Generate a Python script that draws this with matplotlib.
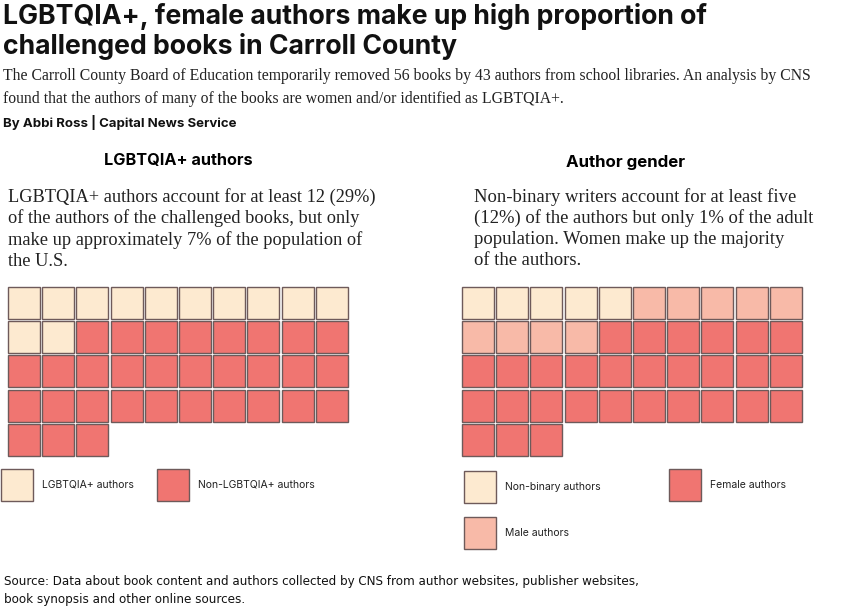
import matplotlib.pyplot as plt
from matplotlib.patches import Rectangle

# data
lgbt_labels = ["LGBTQIA+ authors", "Non-LGBTQIA+ authors"]
lgbt_counts = [12, 31]
gender_labels = ["Non-binary authors", "Male authors", "Female authors"]
gender_counts = [5, 9, 29]

title_lines = ["LGBTQIA+, female authors make up high proportion of",
               "challenged books in Carroll County"]
subtitle_lines = ["The Carroll County Board of Education temporarily removed 56 books by 43 authors from school libraries. An analysis by CNS",
                  "found that the authors of many of the books are women and/or identified as LGBTQIA+."]
byline = "By Abbi Ross | Capital News Service"
left_head = "LGBTQIA+ authors"
left_note = ["LGBTQIA+ authors account for at least 12 (29%)",
             "of the authors of the challenged books, but only",
             "make up approximately 7% of the population of",
             "the U.S."]
right_head = "Author gender"
right_note = ["Non-binary writers account for at least five",
              "(12%) of the authors but only 1% of the adult",
              "population. Women make up the majority",
              "of the authors."]
source_lines = ["Source: Data about book content and authors collected by CNS from author websites, publisher websites,",
                "book synopsis and other online sources."]

cream = "#FDEAD0"
salmon = "#F8BAA8"
red = "#F07571"
edge = "#6E5A5A"
lgbt_colors = [cream, red]
gender_colors = [cream, salmon, red]

title_font = "Inter"
serif = "Liberation Serif"
sans = "Inter"

fig = plt.figure(figsize=(8.5, 6.1), dpi=100)
ax = fig.add_axes([0, 0, 1, 1])
ax.set_xlim(0, 850)
ax.set_ylim(610, 0)
ax.axis("off")


def waffle(counts, colors, x0, y0, pitch=34.2, size=32, ncol=10):
    i = 0
    for c, col in zip(counts, colors):
        for _ in range(c):
            r, k = divmod(i, ncol)
            ax.add_patch(Rectangle((x0 + k * pitch, y0 + r * pitch), size, size,
                                   facecolor=col, edgecolor=edge, lw=1))
            i += 1


def swatch(x, y, col, label):
    ax.add_patch(Rectangle((x, y), 32, 32, facecolor=col, edgecolor=edge, lw=1))
    ax.text(x + 41, y + 16, label, fontsize=7.5, family=sans, va="center", color="#222222")


for i, t in enumerate(title_lines):
    ax.text(3, 16 + i * 30, t, fontsize=19.2, family=title_font, weight="bold",
            va="center", color="#111111")
for i, t in enumerate(subtitle_lines):
    ax.text(3, 76 + i * 23, t, fontsize=11.3, family=serif, va="center", color="#222222")
ax.text(3, 122, byline, fontsize=9.5, family=sans, weight="bold", va="center", color="#111111")

ax.text(178, 161, left_head, fontsize=11.7, family=sans, weight="bold", ha="center", va="center")
ax.text(626, 163, right_head, fontsize=12.2, family=sans, weight="bold", ha="center", va="center")
for i, t in enumerate(left_note):
    ax.text(8, 197 + i * 21.5, t, fontsize=13.2, family=serif, va="center", color="#222222")
for i, t in enumerate(right_note):
    ax.text(474, 197 + i * 21.3, t, fontsize=13.4, family=serif, va="center", color="#222222")

waffle(lgbt_counts, lgbt_colors, 8, 287)
waffle(gender_counts, gender_colors, 462, 287)

swatch(1, 469, lgbt_colors[0], lgbt_labels[0])
swatch(157, 469, lgbt_colors[1], lgbt_labels[1])
swatch(464, 471, gender_colors[0], gender_labels[0])
swatch(464, 517, gender_colors[1], gender_labels[1])
swatch(669, 469, gender_colors[2], gender_labels[2])

for i, t in enumerate(source_lines):
    ax.text(4, 581 + i * 18, t, fontsize=9.5, family="DejaVu Sans", stretch="condensed",
            va="center", color="#111111")

fig.savefig("out.png", dpi=100)
